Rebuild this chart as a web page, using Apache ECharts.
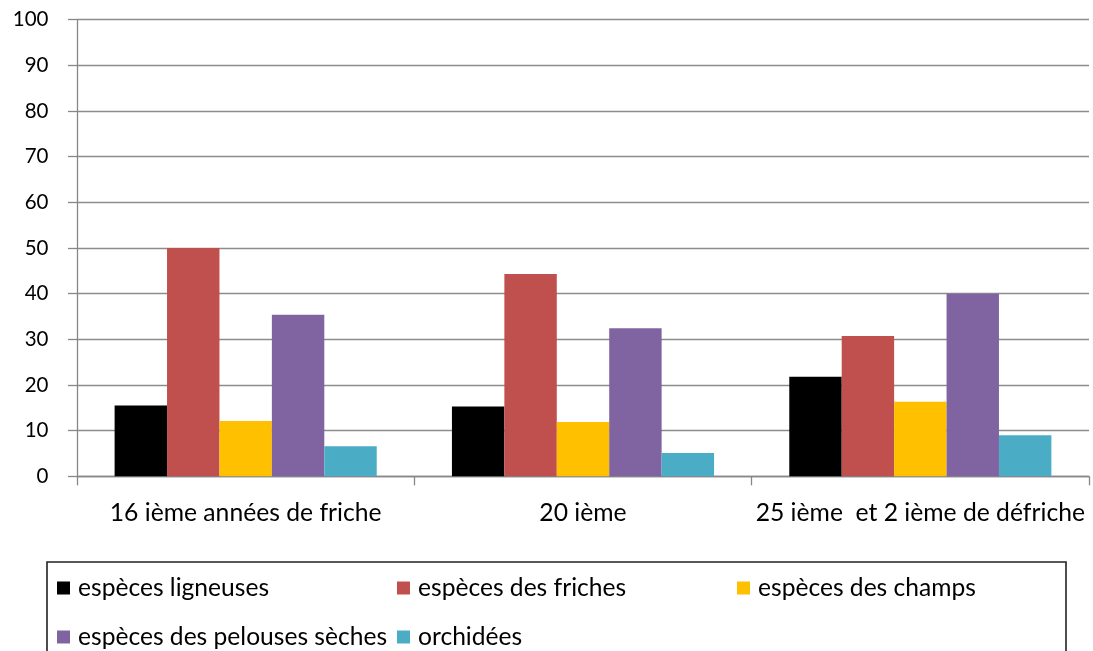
<!DOCTYPE html>
<html>
<head>
<meta charset="utf-8">
<script src="https://cdn.jsdelivr.net/npm/echarts@6/dist/echarts.min.js"></script>
<style>
html,body{margin:0;padding:0;background:#fff;}
#chart{width:1093px;height:651px;}
</style>
</head>
<body>
<div id="chart"></div>
<script>
const categories = ['16 ième années de friche', '20 ième', '25 ième  et 2 ième de défriche'];
const seriesNames = ['espèces ligneuses', 'espèces des friches', 'espèces des champs', 'espèces des pelouses sèches', 'orchidées'];
const ligneuses = [15.5, 15.3, 21.8];
const friches = [50, 44.3, 30.7];
const champs = [12.1, 11.9, 16.3];
const pelouses = [35.4, 32.4, 40];
const orchidees = [6.6, 5.1, 9.0];
const yTicks = { min: 0, max: 100, interval: 10 };

const FONT = 'Lato';
function fitSize(text, target) {
  const c = document.createElement('canvas').getContext('2d');
  c.font = '100px ' + FONT;
  return Math.round(100 * target / c.measureText(text).width * 10) / 10;
}
const legendSize = fitSize('espèces ligneuses', 191);
const catSize = fitSize('16 ième années de friche', 272);
const ySize = fitSize('100', 35.6);

const colors = ['#000000', '#C0504D', '#FFC000', '#8064A2', '#4BACC6'];
const values = [ligneuses, friches, champs, pelouses, orchidees];

const chart = echarts.init(document.getElementById('chart'));
chart.setOption({
  animation: false,
  color: colors,
  grid: { left: 77, right: 4, top: 19.7, bottom: 174.7, containLabel: false },
  xAxis: {
    type: 'category',
    data: categories,
    axisLine: { lineStyle: { color: '#878787', width: 1.3 } },
    axisTick: { show: true, length: 9, lineStyle: { color: '#878787', width: 1.3 } },
    axisLabel: { interval: 0, hideOverlap: false, color: '#000', fontFamily: FONT, fontSize: catSize, lineHeight: 24, margin: 25 }
  },
  yAxis: {
    type: 'value',
    min: yTicks.min, max: yTicks.max, interval: yTicks.interval,
    axisLine: { show: true, lineStyle: { color: '#878787', width: 1.3 } },
    axisTick: { show: true, length: 9, lineStyle: { color: '#878787', width: 1.3 } },
    splitLine: { lineStyle: { color: '#8c8c8c', width: 1.3 } },
    axisLabel: { color: '#000', fontFamily: FONT, fontSize: ySize, margin: 28.5 }
  },
  legend: {
    data: seriesNames,
    left: 57, top: 563.5, width: 1030,
    padding: 0, itemGap: 0,
    itemWidth: 13, itemHeight: 13,
    icon: 'rect',
    textStyle: { color: '#000', fontFamily: FONT, fontSize: legendSize, width: 319, lineHeight: 49, padding: [0, 0, 0, 3] }
  },
  graphic: [{
    type: 'rect', z: 100, silent: true,
    shape: { x: 47, y: 562, width: 1019, height: 120 },
    style: { fill: 'none', stroke: '#222', lineWidth: 1.6 }
  }],
  series: seriesNames.map((n, i) => ({
    name: n, type: 'bar', data: values[i],
    barGap: '0%', barCategoryGap: '22.3%'
  }))
});
</script>
</body>
</html>
